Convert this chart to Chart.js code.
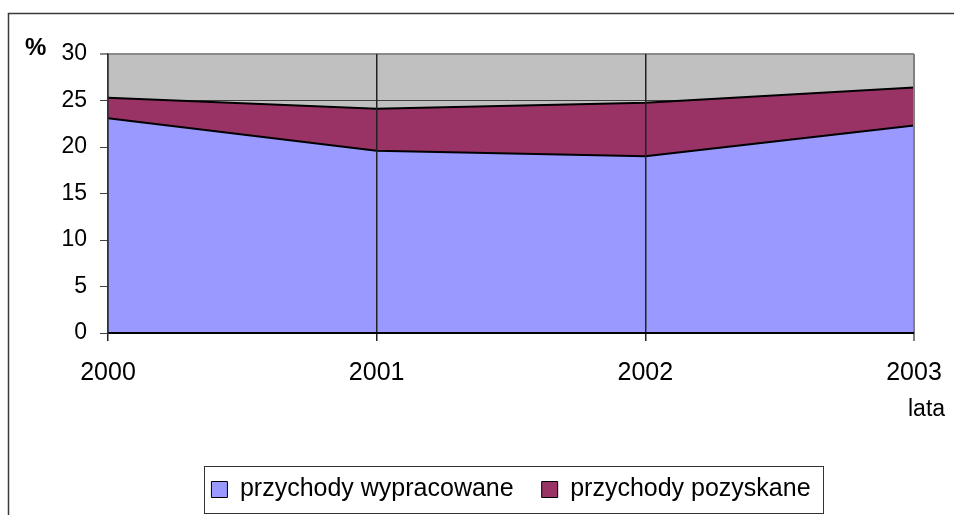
<!DOCTYPE html>
<html>
<head>
<meta charset="utf-8">
<script src="https://cdn.jsdelivr.net/npm/chart.js@4/dist/chart.umd.min.js"></script>
<style>
html,body{margin:0;padding:0;background:#fff;}
#wrap{position:relative;width:954px;height:515px;}
</style>
</head>
<body>
<div id="wrap"><canvas id="c" width="954" height="515"></canvas></div>
<script>
const years = ['2000', '2001', '2002', '2003'];
const wypracowane = [23.1, 19.6, 19.0, 22.3];
const pozyskane = [2.2, 4.5, 5.75, 4.1];
const seriesNames = ['przychody wypracowane', 'przychody pozyskane'];
const yAxisLabel = '%';
const xAxisLabel = 'lata';

const FONT = "'Liberation Sans', Arial, sans-serif";

const decorPlugin = {
  id: 'decor',
  beforeDraw(chart) {
    const {ctx, chartArea: a} = chart;
    ctx.save();
    ctx.fillStyle = '#C0C0C0';
    ctx.fillRect(a.left, a.top, a.right - a.left, a.bottom - a.top);
    ctx.restore();
  },
  afterDraw(chart) {
    const {ctx, chartArea: a} = chart;
    ctx.save();
    // outer chart border
    ctx.strokeStyle = '#3a3a3a';
    ctx.lineWidth = 1.5;
    ctx.beginPath();
    ctx.moveTo(8.5, chart.height + 2);
    ctx.lineTo(8.5, 13.5);
    ctx.lineTo(chart.width + 2, 13.5);
    ctx.stroke();
    // axis titles
    ctx.fillStyle = '#000';
    ctx.textBaseline = 'alphabetic';
    ctx.textAlign = 'left';
    ctx.font = 'bold 24px ' + FONT;
    ctx.fillText(yAxisLabel, a.left - 83, a.top + 1);
    ctx.font = '23px ' + FONT;
    ctx.fillText(xAxisLabel, a.right - 6, a.bottom + 83);
    // legend border
    const hb = chart.legend && chart.legend.legendHitBoxes;
    if (hb && hb.length) {
      const first = hb[0], last = hb[hb.length - 1];
      const l = first.left - 7, r = last.left + last.width + 13;
      const t = first.top - 11, b = first.top + first.height + 11;
      ctx.strokeStyle = '#333';
      ctx.lineWidth = 1;
      ctx.strokeRect(Math.round(l) + 0.5, Math.round(t) + 0.5, Math.round(r - l), Math.round(b - t));
    }
    ctx.restore();
  }
};

new Chart(document.getElementById('c'), {
  type: 'line',
  data: {
    labels: years,
    datasets: [
      {
        label: seriesNames[0],
        data: wypracowane,
        backgroundColor: '#9999FF',
        borderColor: '#000',
        borderWidth: 2,
        fill: 'origin',
        tension: 0,
        pointRadius: 0
      },
      {
        label: seriesNames[1],
        data: pozyskane,
        backgroundColor: '#993366',
        borderColor: '#000',
        borderWidth: 2,
        fill: '-1',
        tension: 0,
        pointRadius: 0
      }
    ]
  },
  options: {
    responsive: false,
    animation: false,
    devicePixelRatio: 1,
    layout: { padding: { left: 10, top: 54, right: 0, bottom: 3 } },
    plugins: {
      tooltip: { enabled: false },
      legend: {
        position: 'bottom',
        fullSize: false,
        labels: {
          font: { family: FONT, size: 25 },
          color: '#000',
          boxWidth: 16,
          boxHeight: 16,
          padding: 28,
          generateLabels(chart) {
            return Chart.defaults.plugins.legend.labels.generateLabels(chart).map(l => Object.assign(l, { lineWidth: 1, strokeStyle: '#000' }));
          }
        }
      }
    },
    scales: {
      x: {
        type: 'category',
        offset: false,
        afterFit(s) { s.height = 116; },
        grid: {
          display: true,
          drawOnChartArea: true,
          drawTicks: true,
          tickLength: 8,
          z: 1,
          color: (c) => c.index === years.length - 1 ? '#808080' : '#222',
          lineWidth: (c) => c.index === years.length - 1 ? 2 : 1.5
        },
        border: { display: true, color: '#000', width: 2, z: 1 },
        ticks: {
          font: { family: FONT, size: 25, lineHeight: 1.6 },
          color: '#000',
          padding: 12,
          maxRotation: 0,
          autoSkip: false
        }
      },
      y: {
        stacked: true,
        min: 0,
        max: 30,
        afterFit(s) { s.width = 98; },
        grid: {
          display: true,
          drawOnChartArea: true,
          tickLength: 8,
          color: (c) => c.tick && c.tick.value === 30 ? '#8a8a8a' : '#404040',
          lineWidth: (c) => c.tick && c.tick.value === 30 ? 2 : 1
        },
        border: { display: true, color: '#333', width: 1.5, z: 1 },
        ticks: {
          stepSize: 5,
          font: { family: FONT, size: 23 },
          color: '#000',
          padding: 13
        }
      },
      yR: {
        position: 'right',
        display: true,
        afterFit(s) { s.width = 40; },
        grid: { display: false },
        border: { display: false },
        ticks: { display: false }
      }
    }
  },
  plugins: [decorPlugin]
});
</script>
</body>
</html>
